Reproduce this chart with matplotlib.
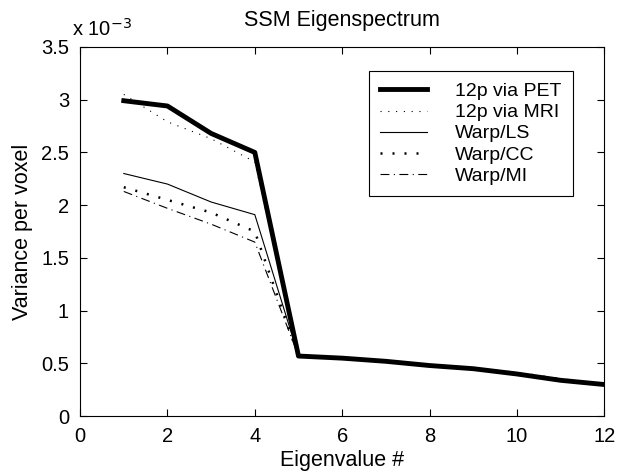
import matplotlib
matplotlib.use("Agg")
import matplotlib.pyplot as plt

plt.rcParams['font.family'] = ['Liberation Sans', 'DejaVu Sans']

eig = list(range(1, 13))
pet = [2.99, 2.94, 2.68, 2.50, 0.57, 0.55, 0.52, 0.48, 0.45, 0.40, 0.34, 0.30]
mri = [3.05, 2.79, 2.63, 2.41, 0.57, 0.55, 0.52, 0.48, 0.45, 0.41, 0.35, 0.30]
ls_ = [2.30, 2.20, 2.03, 1.91, 0.57, 0.55, 0.52, 0.48, 0.45, 0.41, 0.34, 0.30]
cc = [2.17, 2.05, 1.93, 1.75, 0.57, 0.55, 0.52, 0.48, 0.45, 0.41, 0.35, 0.30]
mi = [2.13, 1.97, 1.82, 1.65, 0.57, 0.55, 0.52, 0.48, 0.45, 0.41, 0.34, 0.30]
labels = ['12p via PET', '12p via MRI', 'Warp/LS', 'Warp/CC', 'Warp/MI']

fig = plt.figure(figsize=(6.21, 4.74), dpi=100)
ax = fig.add_axes([0.129, 0.122, 0.844, 0.779])

ax.plot(eig, pet, color='black', lw=3.5, ls='-', label=labels[0])
ax.plot(eig, mri, color='black', lw=0.8, ls=(0, (1, 6)), label=labels[1])
ax.plot(eig, ls_, color='black', lw=0.8, ls='-', label=labels[2])
ax.plot(eig, cc, color='black', lw=1.8, ls=(0, (0.8, 4)), label=labels[3])
ax.plot(eig, mi, color='black', lw=0.8, ls=(0, (8, 4, 1, 4)), label=labels[4])

ax.set_xlim(0, 12)
ax.set_ylim(0, 3.5)
ax.set_xticks(range(0, 13, 2))
ax.set_yticks([0, 0.5, 1, 1.5, 2, 2.5, 3, 3.5])
ax.set_yticklabels(['0', '0.5', '1', '1.5', '2', '2.5', '3', '3.5'])
ax.tick_params(direction='in', top=True, right=True, labelsize=14.5, length=5, width=0.8)
ax.tick_params(axis='x', pad=8)
ax.tick_params(axis='y', pad=8)
for s in ax.spines.values():
    s.set_linewidth(0.8)

ax.set_xlabel('Eigenvalue #', fontsize=15.5, labelpad=3)
ax.set_ylabel('Variance per voxel', fontsize=15.5, labelpad=6)
ax.set_title('SSM Eigenspectrum', fontsize=15.5, pad=15)
ax.text(-0.015, 1.018, r'x 10$^{-3}$', transform=ax.transAxes, fontsize=14.5, ha='left', va='bottom')

leg = ax.legend(loc='upper right', bbox_to_anchor=(0.94, 0.935), fontsize=14,
                frameon=True, fancybox=False, edgecolor='black', framealpha=1,
                handlelength=2.37, handletextpad=1.45, labelspacing=0.18,
                borderpad=0.6, borderaxespad=0)
leg.get_frame().set_linewidth(0.8)

fig.savefig('out.png', dpi=100)
